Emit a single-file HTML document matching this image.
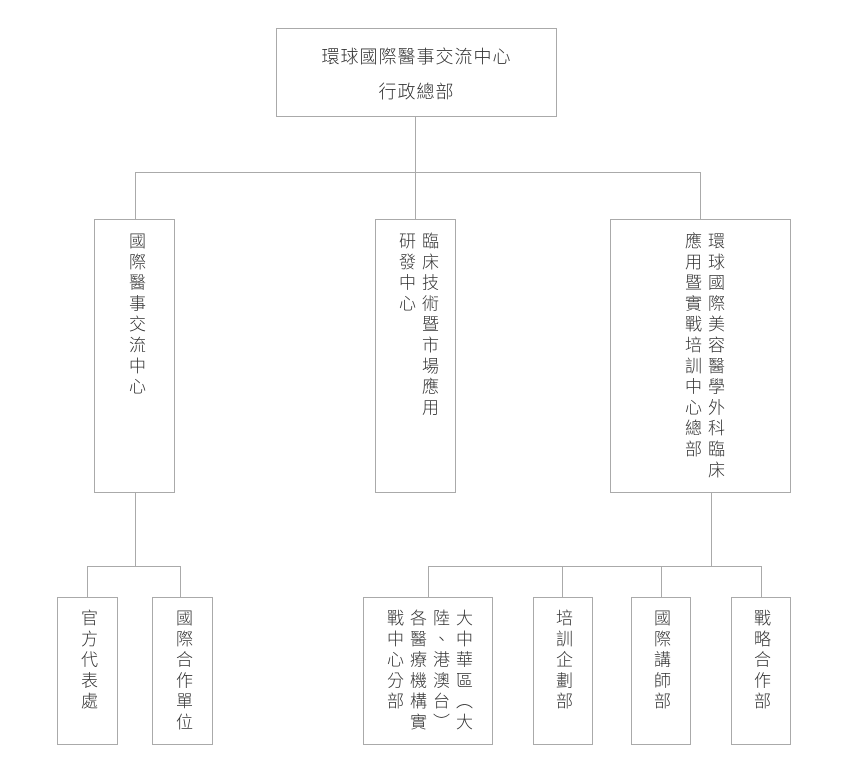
<!DOCTYPE html>
<html><head><meta charset="utf-8"><style>
body{margin:0;background:#fff;width:844px;height:779px;position:relative;overflow:hidden;font-family:"Liberation Sans","Noto Sans CJK TC",sans-serif;color:#333}
.b{position:absolute;border:1px solid #aaa;box-sizing:border-box;background:#fff}
.l{position:absolute;background:#aaa}
.v{position:absolute;writing-mode:vertical-rl;font-size:17px;letter-spacing:3.8px;line-height:23px;white-space:pre;font-weight:300}
</style></head><body>
<div class="l" style="left:415px;top:116px;width:1px;height:103px"></div>
<div class="l" style="left:135px;top:172px;width:566px;height:1px"></div>
<div class="l" style="left:135px;top:172px;width:1px;height:47px"></div>
<div class="l" style="left:700px;top:172px;width:1px;height:47px"></div>
<div class="l" style="left:135px;top:492px;width:1px;height:74px"></div>
<div class="l" style="left:87px;top:566px;width:94px;height:1px"></div>
<div class="l" style="left:87px;top:566px;width:1px;height:31px"></div>
<div class="l" style="left:180px;top:566px;width:1px;height:31px"></div>
<div class="l" style="left:711px;top:492px;width:1px;height:74px"></div>
<div class="l" style="left:428px;top:566px;width:334px;height:1px"></div>
<div class="l" style="left:428px;top:566px;width:1px;height:31px"></div>
<div class="l" style="left:562px;top:566px;width:1px;height:31px"></div>
<div class="l" style="left:661px;top:566px;width:1px;height:31px"></div>
<div class="l" style="left:761px;top:566px;width:1px;height:31px"></div>

<div class="b" style="left:276px;top:28px;width:281px;height:89px;text-align:center;font-size:18px;line-height:35px;padding-top:11px;letter-spacing:1px;font-weight:300">環球國際醫事交流中心<br>行政總部</div>

<div class="b" style="left:94px;top:219px;width:81px;height:274px"></div>
<div class="v" style="left:124px;top:232px">國際醫事交流中心</div>
<div class="b" style="left:375px;top:219px;width:81px;height:274px"></div>
<div class="v" style="left:394px;top:232px">臨床技術暨市場應用
研發中心</div>
<div class="b" style="left:610px;top:219px;width:181px;height:274px"></div>
<div class="v" style="left:680px;top:232px">環球國際美容醫學外科臨床
應用暨實戰培訓中心總部</div>

<div class="b" style="left:57px;top:597px;width:61px;height:148px"></div>
<div class="v" style="left:76px;top:609px">官方代表處</div>
<div class="b" style="left:152px;top:597px;width:61px;height:148px"></div>
<div class="v" style="left:171px;top:609px">國際合作單位</div>
<div class="b" style="left:363px;top:597px;width:130px;height:148px"></div>
<div class="v" style="left:382px;top:609px">大中華區（大
陸、港澳台）
各醫療機構實
戰中心分部</div>
<div class="b" style="left:533px;top:597px;width:60px;height:148px"></div>
<div class="v" style="left:551px;top:609px">培訓企劃部</div>
<div class="b" style="left:631px;top:597px;width:60px;height:148px"></div>
<div class="v" style="left:649px;top:609px">國際講師部</div>
<div class="b" style="left:731px;top:597px;width:60px;height:148px"></div>
<div class="v" style="left:749px;top:609px">戰略合作部</div>
</body></html>
